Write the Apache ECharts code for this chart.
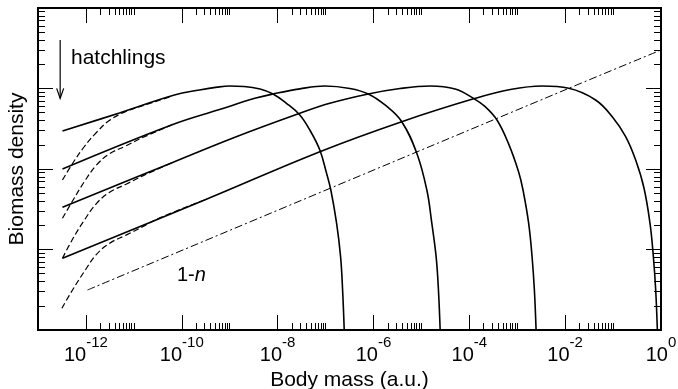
<!DOCTYPE html>
<html>
<head>
<meta charset="utf-8">
<script src="https://cdn.jsdelivr.net/npm/echarts@6/dist/echarts.min.js"></script>
<style>
html, body { margin: 0; padding: 0; background: #fff; }
#main { width: 678px; height: 389px; }
</style>
</head>
<body>
<div id="main"></div>
<script>
var FONT = '"Liberation Sans", Arial, sans-serif';

// solid curves: body mass (a.u.) vs biomass density (arbitrary units)
var mass1 = [3.24e-13, 5.0e-12, 7.03e-11, 2.34e-10, 5.5e-10, 1.0e-9, 2.0e-9, 4.3e-9, 8.02e-9, 1.53e-8, 2.90e-8, 4.70e-8, 7.60e-8, 1.05e-7, 1.29e-7, 1.70e-7, 2.06e-7, 2.27e-7, 2.47e-7];
var dens1 = [296, 497, 830, 958, 1040, 1074, 1060, 985, 855, 655, 469, 305, 172, 88.5, 54.8, 21.2, 8.14, 3.14, 0.9];

var mass2 = [3.24e-13, 6.10e-11, 6.15e-10, 3.5e-9, 8.02e-9, 2.90e-8, 9.66e-8, 3.22e-7, 7.78e-7, 1.74e-6, 3.89e-6, 8.02e-6, 1.30e-5, 1.65e-5, 2.03e-5, 2.27e-5, 2.48e-5];
var dens2 = [100, 352, 548, 760, 855, 990, 1074, 1000, 855, 624, 387, 157, 54.8, 21.2, 8.14, 3.14, 0.9];

var mass3 = [3.24e-13, 6.10e-11, 1.33e-9, 2.90e-8, 1.23e-7, 7.78e-7, 3.58e-6, 1.52e-5, 5.07e-5, 1.22e-4, 2.15e-4, 3.78e-4, 6.61e-4, 1.07e-3, 1.32e-3, 1.73e-3, 2.04e-3, 2.28e-3, 2.49e-3];
var dens3 = [33.4, 119, 250, 492, 655, 855, 1000, 1074, 986, 755, 594, 406, 205, 91.8, 54.8, 21.2, 8.14, 3.14, 0.9];

var mass4 = [3.24e-13, 2.99e-10, 7.60e-8, 3.89e-6, 1.33e-4, 7.18e-4, 3.30e-3, 1.19e-2, 4.31e-2, 9.62e-2, 0.183, 0.296, 0.441, 0.589, 0.693, 0.775, 0.845];
var dens4 = [7.78, 41.2, 164, 387, 755, 972, 1074, 1005, 720, 446, 252, 129, 58.1, 21.2, 8.14, 3.14, 0.9];

// dashed curves (hatchling start)
var dmass = [3.24e-13, 5.25e-13, 9.20e-13, 1.62e-12, 3.07e-12, 6.87e-12, 1.53e-11, 6.10e-11];
var ddens1 = [73.0, 117, 189, 280, 400, 520, 610, 800];
var ddens2 = [24.4, 40.0, 69.0, 110, 154, 194, 246, 352];
var ddens3 = [7.78, 13.4, 23.0, 36.7, 51.2, 64.7, 82.1, 119];
var dmass4 = [3.15e-13, 5.25e-13, 9.20e-13, 1.62e-12, 3.07e-12, 6.87e-12, 1.53e-11, 3.41e-11, 2.99e-10];
var ddens4 = [1.86, 3.14, 5.30, 8.55, 11.9, 15.1, 19.2, 24.6, 41.2];

// 1-n reference line
var nmass = [1.08e-12, 1.19e-2, 1];
var ndens = [3.14, 1005, 3006];

var massTicks = [1e-12, 1e-10, 1e-8, 1e-6, 1e-4, 1e-2, 1];
var densTicks = [1, 10, 100, 1000, 10000];

// minor ticks: 2..10 x each labelled decade on x, 2..9 per decade on y
var massMinor = [];
massTicks.slice(0, 6).forEach(function (t) {
    for (var k = 2; k <= 10; k++) massMinor.push(k * t);
});
var densMinor = [];
densTicks.slice(0, 4).forEach(function (t) {
    for (var k = 2; k <= 9; k++) densMinor.push(k * t);
});

function pairs(xs, ys) {
    return xs.map(function (x, i) { return [x, ys[i]]; });
}

function xAx(pos, ticks, len, withLabel) {
    var ax = {
        type: 'log', gridIndex: 0, position: pos, min: 1e-13, max: 1,
        axisLine: { show: true, onZero: false, lineStyle: { color: '#000', width: 2 } },
        axisTick: { show: true, inside: true, length: len, customValues: ticks, lineStyle: { color: '#000', width: 1 } },
        axisLabel: { show: false },
        splitLine: { show: false }
    };
    if (withLabel) {
        ax.axisLabel = {
            show: true, customValues: massTicks, margin: 5,
            formatter: function (v) {
                return '{b|10}{s|' + Math.round(Math.log10(v)) + '}';
            },
            rich: {
                b: { fontSize: 20, lineHeight: 30, fontFamily: FONT, color: '#000', verticalAlign: 'bottom' },
                s: { fontSize: 15, lineHeight: 15, fontFamily: FONT, color: '#000', verticalAlign: 'top' }
            }
        };
        ax.name = 'Body mass (a.u.)';
        ax.nameLocation = 'middle';
        ax.nameGap = 36;
        ax.nameTextStyle = { fontSize: 21, fontFamily: FONT, color: '#000' };
    }
    return ax;
}

function yAx(pos, ticks, len, withName) {
    var ax = {
        type: 'log', gridIndex: 0, position: pos, min: 1, max: 10000,
        axisLine: { show: true, onZero: false, lineStyle: { color: '#000', width: 2 } },
        axisTick: { show: true, inside: true, length: len, customValues: ticks, lineStyle: { color: '#000', width: 1 } },
        axisLabel: { show: false },
        splitLine: { show: false }
    };
    if (withName) {
        ax.name = 'Biomass density';
        ax.nameLocation = 'middle';
        ax.nameGap = 10;
        ax.nameTextStyle = { fontSize: 21, fontFamily: FONT, color: '#000' };
    }
    return ax;
}

function curve(data, type, width, z) {
    return {
        type: 'line', xAxisIndex: 0, yAxisIndex: 0, data: data,
        symbol: 'none', smooth: 0.4, clip: true, silent: true, z: z,
        lineStyle: { color: '#000', width: width, type: type }
    };
}

var myChart = echarts.init(document.getElementById('main'));

myChart.setOption({
    animation: false,
    backgroundColor: '#fff',
    grid: { left: 38, right: 17, top: 8, bottom: 59, containLabel: false, outerBoundsMode: 'none' },
    xAxis: [
        xAx('bottom', massTicks, 15, true),
        xAx('bottom', massMinor, 7, false),
        xAx('top', massTicks, 15, false),
        xAx('top', massMinor, 7, false)
    ],
    yAxis: [
        yAx('left', densTicks, 15, true),
        yAx('left', densMinor, 7, false),
        yAx('right', densTicks, 15, false),
        yAx('right', densMinor, 7, false)
    ],
    series: [
        curve(pairs(dmass, ddens1), [6, 3], 1.2, 2),
        curve(pairs(dmass, ddens2), [6, 3], 1.2, 2),
        curve(pairs(dmass, ddens3), [6, 3], 1.2, 2),
        curve(pairs(dmass4, ddens4), [6, 3], 1.2, 2),
        curve(pairs(nmass, ndens), [8, 3, 2, 3], 1, 2),
        curve(pairs(mass1, dens1), 'solid', 1.6, 3),
        curve(pairs(mass2, dens2), 'solid', 1.6, 3),
        curve(pairs(mass3, dens3), 'solid', 1.6, 3),
        curve(pairs(mass4, dens4), 'solid', 1.6, 3)
    ]
});

// annotations: the hatchling arrow is anchored in data coordinates
var arrowTop = myChart.convertToPixel({ xAxisIndex: 0, yAxisIndex: 0 }, [2.9e-13, 4000]);
var arrowTip = myChart.convertToPixel({ xAxisIndex: 0, yAxisIndex: 0 }, [2.9e-13, 755]);

myChart.setOption({
    graphic: [
        {
            type: 'polyline', silent: true,
            shape: { points: [arrowTop, arrowTip] },
            style: { stroke: '#000', lineWidth: 1.2, fill: null }
        },
        {
            type: 'polyline', silent: true,
            shape: { points: [[arrowTip[0] - 3.5, arrowTip[1] - 10], arrowTip, [arrowTip[0] + 3.5, arrowTip[1] - 10]] },
            style: { stroke: '#000', lineWidth: 1.2, fill: null }
        },
        {
            type: 'text', silent: true, x: 71, y: 58,
            style: { text: 'hatchlings', font: '21px ' + FONT, fill: '#000', textVerticalAlign: 'middle' }
        },
        {
            type: 'text', silent: true, x: 177, y: 275,
            style: {
                text: '{a|1-}{i|n}', fill: '#000', textVerticalAlign: 'middle',
                rich: {
                    a: { fontSize: 20, fontFamily: FONT, color: '#000' },
                    i: { fontSize: 20, fontFamily: FONT, fontStyle: 'italic', color: '#000' }
                }
            }
        }
    ]
});

window.onresize = function () {
    myChart.resize();
};
</script>
</body>
</html>
